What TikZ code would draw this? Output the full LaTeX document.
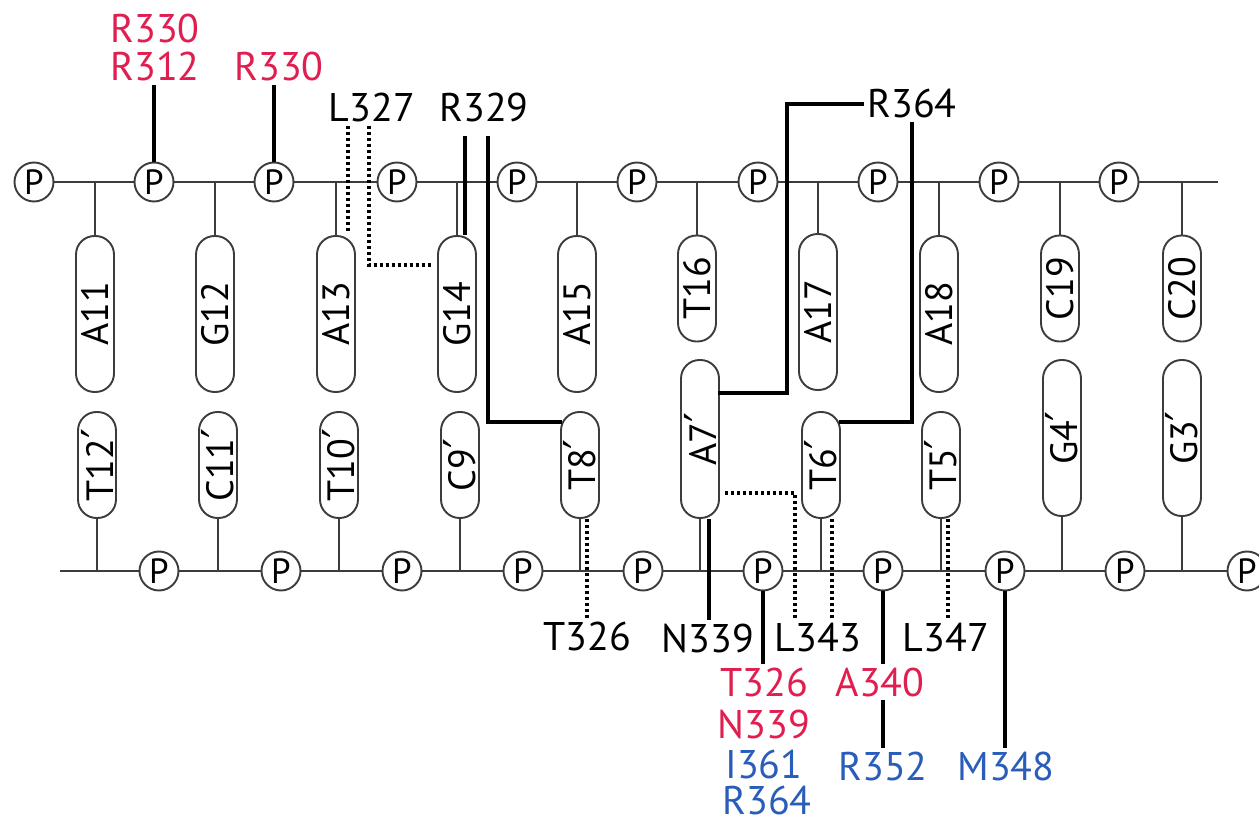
\documentclass[tikz,border=0pt]{standalone}
\usepackage{fontspec}
\setmainfont{PT Sans}
\newfontfamily\primefont{DejaVu Sans}
\newcommand{\pr}{{\primefont\fontsize{44}{44}\selectfont ′}}
\usetikzlibrary{calc}
\definecolor{lred}{HTML}{E01E50}
\definecolor{lblue}{HTML}{2A5DBA}
\definecolor{bonec}{HTML}{3C3C3C}
\tikzset{
 bone/.style={draw=bonec, line width=1.9pt},
 conn/.style={draw=black, line width=3.3pt},
 dots/.style={draw=black, line width=3.6pt, dash pattern=on 3.2pt off 2.8pt},
 pill/.style={draw=bonec, line width=1.9pt, fill=white, rounded corners=18.5pt, rotate=90, minimum height=38pt, inner sep=0pt, font=\fontsize{38}{40}\selectfont},
 longpill/.style={pill, minimum width=156pt},
 shortpill/.style={pill, minimum width=106pt},
 phos/.style={circle, draw=bonec, line width=1.9pt, fill=white, minimum size=39pt, inner sep=0pt, font=\fontsize{35}{36}\selectfont},
 lab/.style={inner sep=3pt, font=\fontsize{40}{44}\selectfont},
 rlab/.style={lab, text=lred},
 blab/.style={lab, text=lblue},
 tight/.style={inner sep=1pt}
}
\begin{document}
\begin{tikzpicture}[x=1pt,y=-1pt]
\fill[white] (0,0) rectangle (1259,818);
\useasboundingbox (0,0) rectangle (1259,818);

% backbone coordinates
\foreach \i/\x in {0/34,1/154,2/274,3/397,4/517,5/637,6/758,7/878,8/999,9/1119}
  \coordinate (tPc\i) at (\x,182);
\foreach \i/\x in {0/159,1/281,2/402,3/523,4/643,5/763,6/883,7/1005,8/1125,9/1247}
  \coordinate (bPc\i) at (\x,571);
\coordinate (tend) at (1218,182);
\coordinate (bstart) at (60,571);
\coordinate (bend) at (1259,571);
\draw[bone] (tPc0) -- (tend);
\draw[bone] (bstart) -- (bend);

% top bases
\node[longpill] (A11) at (95,314) {A11};
\node[longpill] (G12) at (215,314) {G12};
\node[longpill] (A13) at (336,314) {A13};
\node[longpill] (G14) at (457,314) {G14};
\node[longpill] (A15) at (577,314) {A15};
\node[shortpill] (T16) at (697,288.5) {T16};
\node[longpill] (A17) at (818,312) {A17};
\node[longpill] (A18) at (939,314) {A18};
\node[shortpill] (C19) at (1060,288.5) {C19};
\node[shortpill] (C20) at (1182,288.5) {C20};
\foreach \n in {A11,G12,A13,G14,A15,T16,A17,A18,C19,C20}
  \draw[bone] (\n.east) -- (\n.east |- tend);

% bottom bases
\node[shortpill] (T12p) at (97,465) {T12\pr};
\node[shortpill] (C11p) at (218,465) {C11\pr};
\node[shortpill] (T10p) at (339,465) {T10\pr};
\node[shortpill] (C9p) at (460,465) {C9\pr};
\node[shortpill] (T8p) at (580,465) {T8\pr};
\node[longpill, minimum width=158pt] (A7p) at (700,439) {A7\pr};
\node[shortpill] (T6p) at (821,465) {T6\pr};
\node[shortpill] (T5p) at (941,465) {T5\pr};
\node[longpill] (G4p) at (1062,438) {G4\pr};
\node[longpill] (G3p) at (1182,438) {G3\pr};
\foreach \n in {T12p,C11p,T10p,C9p,T8p,A7p,T6p,T5p,G4p,G3p}
  \draw[bone] (\n.west) -- (\n.west |- bend);

% labels
\node[rlab] (R330a) at (155,29) {R330};
\node[rlab] (R312) at (155,67) {R312};
\node[rlab] (R330b) at (279,67) {R330};
\node[lab] (L327) at (372,108) {L327};
\node[lab] (R329) at (484,108) {R329};
\node[lab] (R364t) at (912,104) {R364};
\node[lab] (T326) at (587,636) {T326};
\node[lab] (N339) at (708,638) {N339};
\node[lab] (L343) at (818,638) {L343};
\node[lab] (L347) at (946,638) {L347};
\node[rlab, tight] (rT326) at (764,682) {T326};
\node[rlab, tight] (rN339) at (764,724) {N339};
\node[blab, tight] (bI361) at (764,764) {I361};
\node[blab, tight] (bR364) at (767,800) {R364};
\node[rlab, tight] (rA340) at (880,682) {A340};
\node[blab, tight] (bR352) at (883,766) {R352};
\node[blab, tight] (bM348) at (1006,766) {M348};

% phosphates
\foreach \i in {0,...,9} {
  \node[phos] (tP\i) at (tPc\i) {P};
  \node[phos] (bP\i) at (bPc\i) {P};
}

% top connectors
\draw[conn] (tP1.north) -- (tP1.north |- R312.south);
\draw[conn] (tP2.north) -- (tP2.north |- R330b.south);
\draw[dots] ([xshift=-24pt]L327.south) -- ([xshift=-24pt,yshift=2pt]L327.south |- A13.east);
\coordinate (g14in) at (433,265);
\draw[dots] ([xshift=-3pt]L327.south) |- (g14in);
\draw[conn, shorten <=10pt] ([xshift=-19pt]R329.south) -- ([xshift=-19pt]R329.south |- G14.east);
\coordinate (t8in) at (562,422);
\draw[conn, shorten <=10pt] ([xshift=4pt]R329.south) |- (t8in);
\coordinate (a7in) at (718,393);
\coordinate (r364k) at (787,393);
\draw[conn] (R364t.west) -| (r364k) -- (a7in);
\coordinate (t6in) at (839,422);
\draw[conn] (R364t.south) |- (t6in);

% bottom connectors
\draw[dots] ([xshift=7pt]T8p.west) -- ([xshift=7pt]T8p.west |- T326.north);
\draw[conn] ([xshift=9pt]A7p.west) -- ([xshift=9pt]A7p.west |- N339.north);
\coordinate (a7out) at (725,493);
\draw[dots] (a7out) -| ([xshift=-23pt]L343.north);
\draw[dots] ([xshift=11pt]T6p.west) -- ([xshift=11pt]T6p.west |- L343.north);
\draw[dots] ([xshift=7pt]T5p.west) -- ([xshift=7pt]T5p.west |- L347.north);
\draw[conn, shorten >=2pt] (bP5.south) -- (bP5.south |- rT326.north);
\draw[conn, shorten >=2pt] (bP6.south) -- (bP6.south |- rA340.north);
\draw[conn, shorten <=2pt, shorten >=2pt] (bP6.south |- rA340.south) -- (bP6.south |- bR352.north);
\draw[conn, shorten >=2pt] (bP7.south) -- (bP7.south |- bM348.north);
\end{tikzpicture}
\end{document}
